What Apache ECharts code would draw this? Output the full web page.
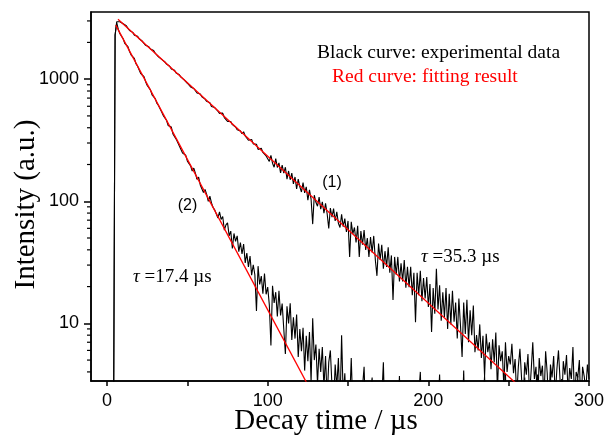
<!DOCTYPE html>
<html>
<head>
<meta charset="utf-8">
<script src="https://cdn.jsdelivr.net/npm/echarts@6/dist/echarts.min.js"></script>
<style>
html,body{margin:0;padding:0;background:#fff;}
#chart{width:609px;height:443px;}
</style>
</head>
<body>
<div id="chart"></div>
<script>
// ---- data ----
// decay time axis: first sample time and step (µs)
var timeStart = 4;
var timeStep = 1;

// curve (1): experimental intensity, one value per µs from 4 µs to 300 µs
var curve1 = [
  1, 2300, 2950, 2910, 2955, 2890, 2845, 2742, 2736, 2605, 2508, 2504, 2417, 2294, 2295, 2250, 2142,
  2071, 2043, 2011, 1894, 1887, 1843, 1768, 1710, 1714, 1631, 1595, 1521, 1522, 1451, 1449, 1384,
  1330, 1340, 1277, 1214, 1210, 1184, 1124, 1111, 1085, 1039, 1037, 987, 974, 926,
  925, 864, 889, 838, 831, 771, 793, 756, 717, 738, 687, 658, 668, 642, 598, 620, 585, 594, 546, 525,
  533, 527, 485, 485, 451, 468, 450, 424, 436, 406, 385, 398, 377, 357, 371, 343, 342, 316, 325, 321,
  295, 293, 293, 266, 274, 272, 251, 251, 235, 243,
  212, 238, 205, 190, 224, 189, 206, 171, 198, 170, 190, 152, 177, 150, 170, 139, 158, 126, 152, 131,
  119, 142, 117, 131, 102, 124, 104, 65, 112, 98, 91, 108, 86, 99, 80, 96, 79, 60, 88, 74,
  87, 69, 82, 66, 61, 78, 62, 72, 56, 69,
  35, 68, 54, 61, 46, 63, 35, 57, 44, 58, 40, 50, 35, 51, 38, 52, 33, 24.5, 45, 33,
  44, 28, 39, 29, 42, 26, 36, 15.5, 35, 25, 35, 22, 31, 22, 33, 19.6, 29, 19.8, 29, 17,
  26, 10.2, 26, 17, 27, 15.2, 23.5, 16, 24, 13.6,
  21, 8.5, 19.5, 12, 28, 13, 20.5, 10.5, 18, 11.2, 19.5, 9, 17.5, 9.8, 18.5, 10.3, 14.8, 7.5, 16, 9.6,
  5.3, 14.8, 8.2, 15.6, 7.0, 12.8, 8.0, 14, 5.8,
  8.0, 6.0, 9.8, 5.2, 7.9, 3.7, 8.2, 5.8, 7.0, 4.2, 7.4, 4.8, 8.4, 2.8, 6.6, 4.9, 5.9, 3.0, 7.0, 4.0, 5.4,
  4.6, 6.8, 3.9, 5.1, 2.5, 4.4, 6.2, 3.6, 2.2, 4.8, 3.8, 5.6, 2.6, 4.1, 7.0, 3.5, 4.4, 2.0, 5.2, 3.7,
  4.5, 2.4, 5.9, 3.9, 1.8, 4.6, 3.6, 5.4, 2.5, 4.2, 6.0, 3.4, 2.1, 4.9, 3.8, 5.5, 2.7, 4.3, 3.5, 6.4,
  2.3, 4.0, 3.6, 5.0, 1.9, 4.4, 3.7, 2.8, 4.6, 3.5
];

// curve (2): experimental intensity, one value per µs from 4 µs to 300 µs
var curve2 = [
  1, 2300, 2900, 2557, 2356, 2305, 2146, 1967, 1906, 1846, 1684, 1575, 1542, 1478, 1336, 1275, 1234,
  1109, 1091, 1047, 954, 888, 878, 817, 745, 748, 693, 635, 609, 598, 538, 503, 503, 461, 418, 419, 405,
  356, 350, 323, 324, 284, 276, 248, 257, 238, 213, 218, 195, 177, 187, 169, 151, 158, 136, 136, 118,
  125, 114, 100, 110, 97, 89, 85, 88, 73, 82, 71, 75, 58, 64, 66.5, 52, 57, 41, 54.5, 47,
  52, 38.6, 45.8, 37, 44.6, 31.3, 37.6, 29, 35.5, 24.8, 30.2, 25, 12.6, 29.4, 20.8, 24.4, 17.5, 25.6, 17.3, 19.8,
  14.2, 6.6, 20.3, 14.7, 18, 11.4, 18.5, 11.6, 14.5, 9, 5.6, 13.8, 10, 14.6, 7.3, 11.2, 7.5, 11.8, 5.3, 9,
  5.9, 9.2, 4.1, 7.9, 4.9, 8.5, 3.3, 11, 5.0, 6.7, 3.2, 6.2, 4.0, 6.4, 3.0, 5.4, 2.4, 4.8, 6.0, 3.1,
  2.2, 4.6, 3.0, 5.2, 2.0, 8.0, 2.5, 3.9, 1.8, 3.2,
  2.2, 5.2, 2.0, 1.5, 2.8, 1.2, 2.4, 1.9, 3.0, 4.4, 1.6, 2.5, 1.3, 2.7, 3.6, 1.5, 2.2, 1.0, 2.9, 1.7,
  2.4, 4.8, 1.4, 2.6, 1.8, 1.1, 3.0, 2.0, 1.3, 2.5, 1.6, 3.7, 1.2, 2.2, 1.5, 2.8, 1.0, 2.3, 1.9, 3.1,
  1.4, 2.0, 1.2, 2.6, 4.0, 1.5, 2.1, 1.1, 2.7, 1.8,
  1.3, 2.4, 1.7, 2.9, 1.2, 2.0, 3.8, 1.4, 2.2, 1.6, 2.7, 1.1, 1.9, 2.5, 1.3, 3.2, 1.7, 2.1, 1.0, 2.6,
  1.5, 4.1, 1.2, 2.3, 1.8, 2.9, 1.4, 2.0, 1.1, 2.5, 1.6, 3.0, 1.3, 2.2, 3.7, 1.5, 2.4, 1.0, 2.8, 1.7,
  2.1, 1.2, 3.3, 1.6, 2.6, 1.4, 2.0, 3.9, 1.1, 2.3, 1.8, 2.7, 1.3, 2.1, 1.5, 3.1, 1.0, 2.4, 1.7, 3.6,
  1.2, 2.2, 1.9, 2.8, 1.4, 2.0, 1.1, 3.8, 1.6, 2.5, 1.3, 2.9, 1.8, 2.1, 1.0, 4.0, 1.5, 2.3, 1.2, 2.7,
  1.7, 2.0, 3.5, 1.4, 2.6, 1.1, 2.2, 1.9, 3.0, 1.3, 2.4, 1.6, 3.7, 1.2, 2.1, 1.8, 2.8, 1.4, 2.5, 1.6
];

// fitted single-exponential lines (straight on the log axis): end points
var fit1Time = [6.8, 256];
var fit1Value = [3100, 3.1];
var fit2Time = [5.4, 126];
var fit2Value = [2770, 2.95];

// axis range and ticks
var xMin = -10, xMax = 300;
var yMin = 3.37, yMax = 3550;
var xMajorTicks = [0, 100, 200, 300];
var xAllTicks = [0, 50, 100, 150, 200, 250, 300];
var yMinorTicks = [4, 5, 6, 7, 8, 9, 20, 30, 40, 50, 60, 70, 80, 90,
                   200, 300, 400, 500, 600, 700, 800, 900, 2000, 3000];

// texts
var xTitle = 'Decay time / \u00b5s';
var yTitle = 'Intensity (a.u.)';
var noteBlack = 'Black curve: experimental data';
var noteRed = 'Red curve: fitting result';
var label1 = '(1)';
var label2 = '(2)';
var tau1 = '=35.3 \u00b5s';
var tau2 = '=17.4 \u00b5s';

// ---- build series data ----
function pairs(values) {
  var out = [];
  for (var i = 0; i < values.length; i++) out.push([timeStart + i * timeStep, values[i]]);
  return out;
}
function zipPairs(ts, vs) {
  var out = [];
  for (var i = 0; i < ts.length; i++) out.push([ts[i], vs[i]]);
  return out;
}
// minor log ticks: placed on the y axis through the log scale (api.coord)
var minorTickData = yMinorTicks.map(function (v) { return [xMin, v]; });
var minorTickLen = 4;

var chart = echarts.init(document.getElementById('chart'), null, {renderer: 'canvas'});
var serif = 'Liberation Serif, Times New Roman, serif';
var sans = 'Liberation Sans, Arial, sans-serif';

var option = {
  animation: false,
  backgroundColor: '#fff',
  grid: {left: 91, right: 20, top: 12, bottom: 62, show: true, borderColor: '#000', borderWidth: 1.5,
         backgroundColor: 'transparent', containLabel: false, outerBoundsMode: 'none'},
  xAxis: {
    type: 'value', min: xMin, max: xMax,
    name: xTitle, nameLocation: 'middle', nameGap: 26, nameMoveOverlap: false,
    nameTextStyle: {fontFamily: serif, fontSize: 29, color: '#000', padding: [0, 28, 0, 0]},
    axisLine: {onZero: false, lineStyle: {color: '#000', width: 1.5}},
    axisTick: {show: true, inside: false, length: 5, customValues: xAllTicks, lineStyle: {color: '#000', width: 1.5}},
    axisLabel: {customValues: xMajorTicks, fontFamily: sans, fontSize: 18, color: '#000', margin: 11},
    splitLine: {show: false}
  },
  yAxis: {
    type: 'log', logBase: 10, min: yMin, max: yMax,
    name: yTitle, nameLocation: 'middle', nameGap: 50, nameMoveOverlap: false,
    nameTextStyle: {fontFamily: serif, fontSize: 29, color: '#000', padding: [0, 16, 0, 0]},
    axisLine: {show: true, onZero: false, lineStyle: {color: '#000', width: 1.5}},
    axisTick: {show: true, inside: false, length: 7, lineStyle: {color: '#000', width: 1.5}},
    axisLabel: {fontFamily: sans, fontSize: 18, color: '#000', margin: 12, showMinLabel: false, showMaxLabel: false,
                formatter: function (v) { return String(Math.round(v)); }},
    splitLine: {show: false}, minorTick: {show: false}
  },
  series: [
    {type: 'line', name: 'curve1', data: pairs(curve1), showSymbol: false, symbol: 'none', clip: true,
     lineStyle: {color: '#000', width: 1.1}, z: 2},
    {type: 'line', name: 'curve2', data: pairs(curve2), showSymbol: false, symbol: 'none', clip: true,
     lineStyle: {color: '#000', width: 1.1}, z: 2},
    {type: 'line', name: 'fit1', data: zipPairs(fit1Time, fit1Value), showSymbol: false, symbol: 'none', clip: true,
     lineStyle: {color: '#ff0000', width: 1.3}, z: 3},
    {type: 'line', name: 'fit2', data: zipPairs(fit2Time, fit2Value), showSymbol: false, symbol: 'none', clip: true,
     lineStyle: {color: '#ff0000', width: 1.3}, z: 3},
    {type: 'custom', name: 'minorTicks', data: minorTickData, silent: true, clip: false, z: 5,
     renderItem: function (params, api) {
       var p = api.coord([api.value(0), api.value(1)]);
       return {type: 'line', shape: {x1: p[0] - minorTickLen, y1: p[1], x2: p[0], y2: p[1]},
               style: {stroke: '#000', lineWidth: 1.2}};
     }}
  ],
  graphic: [
    {type: 'text', x: 317, y: 53, z: 10, style: {text: noteBlack, fill: '#000', font: '19.5px ' + serif, textAlign: 'left', textVerticalAlign: 'middle'}},
    {type: 'text', x: 332, y: 77, z: 10, style: {text: noteRed, fill: '#ff0000', font: '19.5px ' + serif, textAlign: 'left', textVerticalAlign: 'middle'}},
    {type: 'text', x: 332, y: 183, z: 10, style: {text: label1, fill: '#000', font: '16px ' + sans, textAlign: 'center', textVerticalAlign: 'middle'}},
    {type: 'text', x: 187.5, y: 206, z: 10, style: {text: label2, fill: '#000', font: '16px ' + sans, textAlign: 'center', textVerticalAlign: 'middle'}},
    {type: 'text', x: 421, y: 257, z: 10, style: {text: '{t|\u03c4} ' + tau1, fill: '#000', font: '19px ' + serif, textAlign: 'left', textVerticalAlign: 'middle',
      rich: {t: {fontStyle: 'italic', fontFamily: serif, fontSize: 19, fill: '#000'}}}},
    {type: 'text', x: 133, y: 277, z: 10, style: {text: '{t|\u03c4} ' + tau2, fill: '#000', font: '19px ' + serif, textAlign: 'left', textVerticalAlign: 'middle',
      rich: {t: {fontStyle: 'italic', fontFamily: serif, fontSize: 19, fill: '#000'}}}}
  ]
};
chart.setOption(option);
</script>
</body>
</html>
